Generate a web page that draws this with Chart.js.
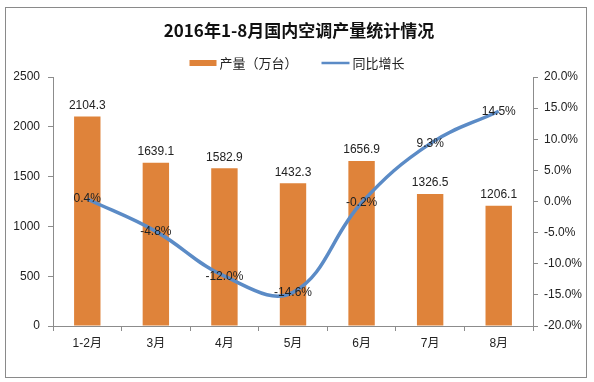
<!DOCTYPE html>
<html>
<head>
<meta charset="utf-8">
<script src="https://cdn.jsdelivr.net/npm/chart.js@4"></script>
<style>
html,body{margin:0;padding:0;background:#fff;}
#wrap{position:relative;width:594px;height:382px;}
</style>
</head>
<body>
<div id="wrap"><canvas id="c" width="594" height="382"></canvas></div>
<script>
const titleText = '2016年1-8月国内空调产量统计情况';
const categories = ['1-2月', '3月', '4月', '5月', '6月', '7月', '8月'];
const outputName = '产量（万台）';
const outputValues = [2104.3, 1639.1, 1582.9, 1432.3, 1656.9, 1326.5, 1206.1];
const growthName = '同比增长';
const growthValues = [0.4, -4.8, -12.0, -14.6, -0.2, 9.3, 14.5];

const BAR_COLOR = '#DF833A';
const LINE_COLOR = '#5B8BC6';
const AXIS_COLOR = '#8c8c8c';
const TEXT_COLOR = '#222';
const FONT = "'Liberation Sans', 'Noto Sans CJK SC', sans-serif";
const CJK = "'Noto Sans CJK SC', sans-serif";

const decor = {
  id: 'decor',
  beforeDraw(chart) {
    const ctx = chart.ctx;
    ctx.save();
    ctx.fillStyle = '#fff';
    ctx.fillRect(0, 0, chart.width, chart.height);
    ctx.strokeStyle = '#8a8a8a';
    ctx.lineWidth = 1;
    ctx.strokeRect(5.5, 7.5, 581, 370);
    // title
    ctx.fillStyle = '#111';
    ctx.font = "bold 17px " + CJK;
    ctx.textAlign = 'center';
    ctx.textBaseline = 'middle';
    ctx.fillText(titleText, 299, 31);
    // legend
    ctx.font = "13px " + CJK;
    ctx.textAlign = 'left';
    const w1 = ctx.measureText(outputName).width;
    const w2 = ctx.measureText(growthName).width;
    const gap = 24;
    const total = 27 + 3 + w1 + gap + 28 + 3 + w2;
    let x = 297 - total / 2;
    const ly = 63;
    ctx.fillStyle = BAR_COLOR;
    ctx.fillRect(x, ly - 3, 27, 6);
    x += 30;
    ctx.fillStyle = TEXT_COLOR;
    ctx.fillText(outputName, x, ly);
    x += w1 + gap;
    ctx.strokeStyle = LINE_COLOR;
    ctx.lineWidth = 2.5;
    ctx.beginPath();
    ctx.moveTo(x, ly);
    ctx.lineTo(x + 28, ly);
    ctx.stroke();
    x += 31;
    ctx.fillStyle = TEXT_COLOR;
    ctx.fillText(growthName, x, ly);
    ctx.restore();
  },
  afterDatasetsDraw(chart) {
    const ctx = chart.ctx;
    ctx.save();
    ctx.fillStyle = TEXT_COLOR;
    ctx.font = "12px " + FONT;
    ctx.textAlign = 'center';
    const barMeta = chart.getDatasetMeta(0);
    ctx.textBaseline = 'bottom';
    barMeta.data.forEach((el, i) => {
      ctx.fillText(outputValues[i].toFixed(1), el.x, el.y - 5);
    });
    const lineMeta = chart.getDatasetMeta(1);
    ctx.textBaseline = 'middle';
    lineMeta.data.forEach((el, i) => {
      ctx.fillText(growthValues[i].toFixed(1) + '%', el.x, el.y);
    });
    ctx.restore();
  }
};

new Chart(document.getElementById('c'), {
  type: 'bar',
  data: {
    labels: categories,
    datasets: [
      {
        type: 'bar',
        label: outputName,
        data: outputValues,
        backgroundColor: BAR_COLOR,
        borderWidth: 0,
        categoryPercentage: 1.0,
        barPercentage: 0.385,
        yAxisID: 'y',
        order: 1
      },
      {
        type: 'line',
        label: growthName,
        data: growthValues,
        borderColor: LINE_COLOR,
        backgroundColor: LINE_COLOR,
        borderWidth: 3.5,
        pointRadius: 0,
        tension: 0.4,
        fill: false,
        yAxisID: 'y1',
        order: 0
      }
    ]
  },
  options: {
    responsive: false,
    animation: false,
    devicePixelRatio: 1,
    layout: { padding: { top: 77, right: 0, bottom: 0, left: 0 } },
    plugins: {
      legend: { display: false },
      title: { display: false },
      tooltip: { enabled: false }
    },
    scales: {
      x: {
        offset: true,
        grid: { offset: true, drawOnChartArea: false, drawTicks: true, tickLength: 5, color: AXIS_COLOR },
        border: { display: true, color: AXIS_COLOR },
        ticks: { color: TEXT_COLOR, font: { family: FONT, size: 12 }, padding: 5, maxRotation: 0 },
        afterFit(scale) { scale.height = 56; }
      },
      y: {
        position: 'left',
        min: 0, max: 2500,
        ticks: {
          stepSize: 500, color: TEXT_COLOR, font: { family: FONT, size: 12 }, padding: 8,
          callback: (v) => String(v)
        },
        grid: { drawOnChartArea: false, drawTicks: true, tickLength: 5, color: AXIS_COLOR },
        border: { display: true, color: AXIS_COLOR },
        afterFit(scale) { scale.width = 53; }
      },
      y1: {
        position: 'right',
        min: -20, max: 20,
        ticks: {
          stepSize: 5, color: TEXT_COLOR, font: { family: FONT, size: 12 }, padding: 6,
          callback: (v) => v.toFixed(1) + '%'
        },
        grid: { drawOnChartArea: false, drawTicks: true, tickLength: 5, color: AXIS_COLOR },
        border: { display: true, color: AXIS_COLOR },
        afterFit(scale) { scale.width = 61; }
      }
    }
  },
  plugins: [decor]
});
</script>
</body>
</html>
